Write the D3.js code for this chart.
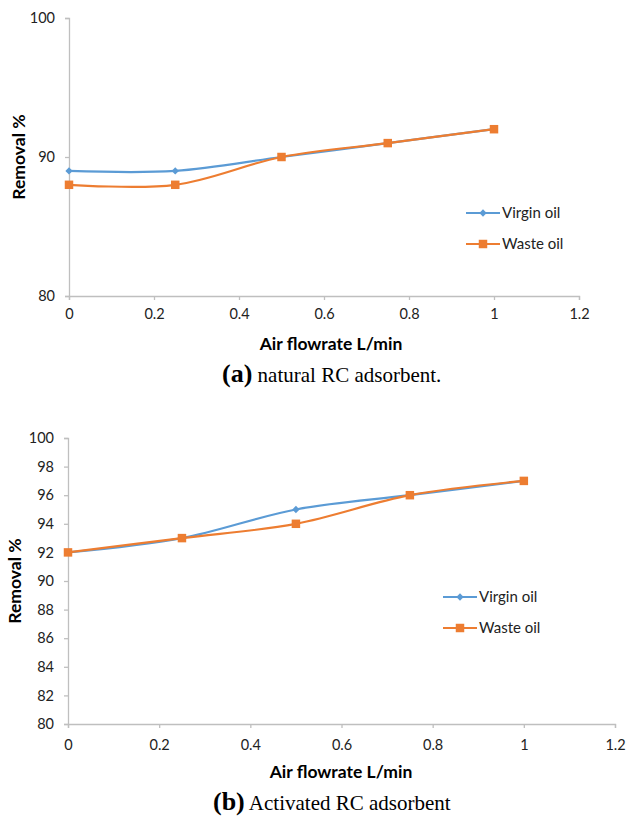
<!DOCTYPE html>
<html lang="en">
<head>
    <meta charset="UTF-8">
    <title>Removal % vs air flowrate</title>
    <script src="https://d3js.org/d3.v7.min.js"></script>
    <style>
        body { margin: 0; background: #fff; }
        svg { display: block; }
    </style>
</head>
<body>
    <div id="chart"></div>
    <script>
        // Data
        const flowrate = [0, 0.25, 0.5, 0.75, 1];
        const virginA = [89, 89, 90, 91, 92];
        const wasteA = [88, 88, 90, 91, 92];
        const virginB = [92, 93, 95, 96, 97];
        const wasteB = [92, 93, 94, 96, 97];
        const xTicks = [0, 0.2, 0.4, 0.6, 0.8, 1, 1.2];
        const yTicksA = [80, 90, 100];
        const yTicksB = [80, 82, 84, 86, 88, 90, 92, 94, 96, 98, 100];
        const seriesNames = ["Virgin oil", "Waste oil"];

        const blue = "#5B9BD5", orange = "#ED7D31", axisGray = "#BFBFBF";
        const uiFont = "Lato, 'Open Sans', sans-serif";

        const svg = d3.select("#chart").append("svg")
            .attr("width", 626).attr("height", 822);

        // Draw one panel
        function panel(cfg) {
            const x = d3.scaleLinear().domain([0, 1.2]).range([cfg.left, cfg.right]);
            const y = d3.scaleLinear().domain([80, 100]).range([cfg.bottom, cfg.top]);
            const g = svg.append("g");

            const xAxis = g.append("g")
                .attr("transform", `translate(0,${cfg.bottom})`)
                .call(d3.axisBottom(x).tickValues(xTicks).tickSize(4).tickPadding(cfg.xPad)
                    .tickFormat(d3.format("~g")));
            const yAxis = g.append("g")
                .attr("transform", `translate(${cfg.left},0)`)
                .call(d3.axisLeft(y).tickValues(cfg.yTicks).tickSize(4).tickPadding(10));
            [xAxis, yAxis].forEach(a => {
                a.select(".domain").attr("stroke", axisGray).attr("stroke-width", 1.3);
                a.selectAll(".tick line").attr("stroke", axisGray).attr("stroke-width", 1.3);
                a.selectAll("text").attr("fill", "#222").style("font-family", uiFont)
                    .style("font-size", "14.5px");
            });

            // axis titles
            g.append("text")
                .attr("x", cfg.xtx).attr("y", cfg.xty)
                .attr("text-anchor", "middle")
                .style("font-family", uiFont).style("font-weight", "bold").style("font-size", "17.5px")
                .text("Air flowrate L/min");
            g.append("text")
                .attr("transform", `translate(${cfg.ytx},${(cfg.top + cfg.bottom) / 2}) rotate(-90)`)
                .attr("text-anchor", "middle")
                .style("font-family", uiFont).style("font-weight", "bold").style("font-size", "17.5px")
                .text("Removal %");

            // caption
            const cap = g.append("text")
                .attr("x", cfg.capX).attr("y", cfg.capY)
                .style("font-family", "'Liberation Serif', serif").style("font-size", "21px");
            cap.append("tspan").style("font-weight", "bold").style("font-size", "26px").text(cfg.capLetter);
            cap.append("tspan").text(" " + cfg.capText);

            const line = d3.line()
                .x((d, i) => x(flowrate[i]))
                .y(d => y(d))
                .curve(d3.curveCatmullRom.alpha(0.5));

            const series = [
                { vals: cfg.virgin, color: blue, shape: d3.symbolDiamond2, size: 34 },
                { vals: cfg.waste, color: orange, shape: d3.symbolSquare, size: 72 }
            ];
            series.forEach(s => {
                g.append("path").datum(s.vals)
                    .attr("fill", "none").attr("stroke", s.color).attr("stroke-width", 2.2)
                    .attr("d", line);
            });
            series.forEach(s => {
                g.selectAll(null).data(s.vals).enter().append("path")
                    .attr("transform", (d, i) => `translate(${x(flowrate[i])},${y(d)})`)
                    .attr("d", d3.symbol(s.shape, s.size))
                    .attr("fill", s.color);
            });

            // legend
            series.forEach((s, i) => {
                const ly = cfg.legY + i * 31;
                g.append("line")
                    .attr("x1", cfg.legX).attr("x2", cfg.legX + 34)
                    .attr("y1", ly).attr("y2", ly)
                    .attr("stroke", s.color).attr("stroke-width", 2.2);
                g.append("path")
                    .attr("transform", `translate(${cfg.legX + 17},${ly})`)
                    .attr("d", d3.symbol(s.shape, s.size))
                    .attr("fill", s.color);
                g.append("text")
                    .attr("x", cfg.legX + 36).attr("y", ly).attr("dy", "0.35em")
                    .style("font-family", uiFont).style("font-size", "15px").attr("fill", "#222")
                    .text(seriesNames[i]);
            });
        }

        panel({
            left: 69, right: 579, top: 18, bottom: 296, yTicks: yTicksA, ytx: 25, xPad: 9,
            xtx: 331, xty: 350,
            virgin: virginA, waste: wasteA, legX: 466, legY: 213,
            capX: 222, capY: 382, capLetter: "(a)", capText: "natural RC adsorbent."
        });
        panel({
            left: 68, right: 615, top: 438, bottom: 724, yTicks: yTicksB, ytx: 21, xPad: 12,
            xtx: 341, xty: 778,
            virgin: virginB, waste: wasteB, legX: 443, legY: 597,
            capX: 213, capY: 810, capLetter: "(b)", capText: "Activated RC adsorbent"
        });
    </script>
</body>
</html>
